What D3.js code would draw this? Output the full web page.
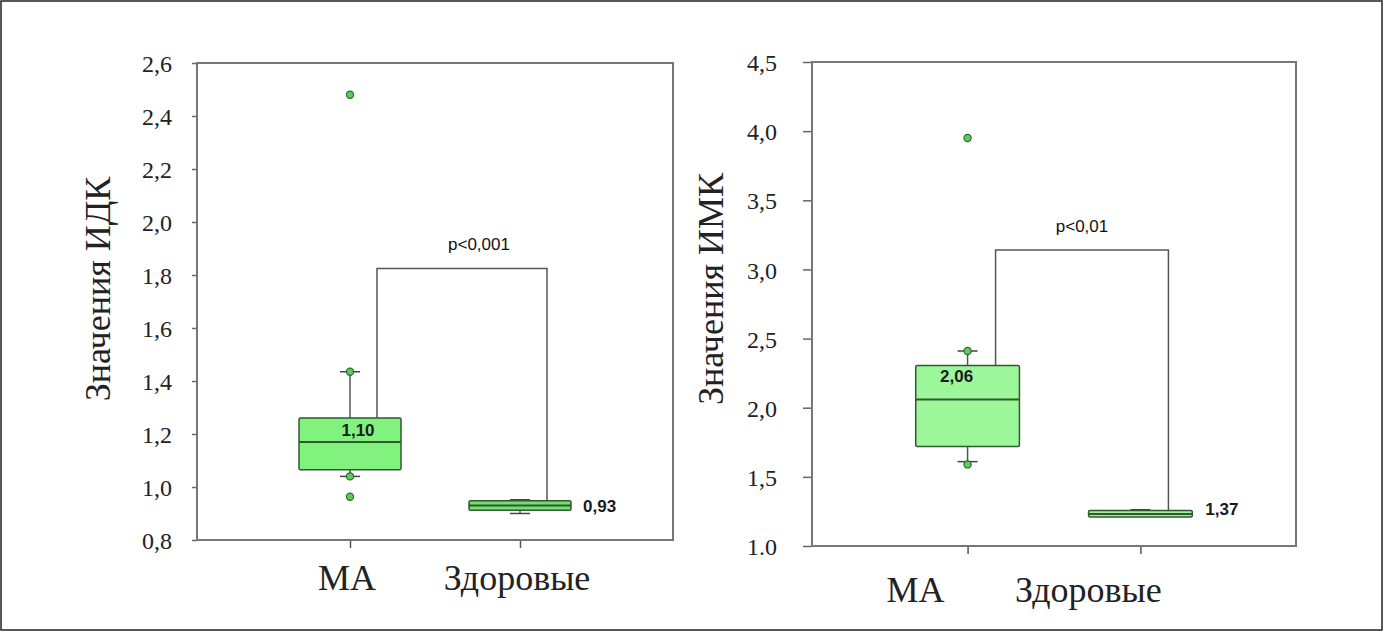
<!DOCTYPE html>
<html>
<head>
<meta charset="utf-8">
<script src="https://cdn.jsdelivr.net/npm/d3@7"></script>
<style>
  body { margin: 0; background: #fff; }
  svg { display: block; }
  .serif { font-family: "Liberation Serif", Tinos, "Times New Roman", Times, "Nimbus Roman", "Nimbus Roman No9 L", "Noto Serif", "DejaVu Serif", FreeSerif, serif; }
  .sans { font-family: "Liberation Sans", Arial, sans-serif; }
</style>
</head>
<body>
<svg id="chart" width="1384" height="632"></svg>
<script>
// groups
const categories = ["МА", "Здоровые"];

// ИДК panel
const idkQ1 = [1.065, 0.912];
const idkMedian = [1.17, 0.93];
const idkQ3 = [1.26, 0.948];
const idkWhiskerLow = [1.04, 0.90];
const idkWhiskerHigh = [1.435, 0.952];
const idkPoints = [[2.48, 1.435, 1.04, 0.963], []];
const idkLabels = ["1,10", "0,93"];
const idkTicks = [0.8, 1.0, 1.2, 1.4, 1.6, 1.8, 2.0, 2.2, 2.4, 2.6];
const idkTickLabels = ["0,8", "1,0", "1,2", "1,4", "1,6", "1,8", "2,0", "2,2", "2,4", "2,6"];
const idkBracket = 1.825;
const idkP = "p<0,001";

// ИМК panel
const imkQ1 = [1.72, 1.21];
const imkMedian = [2.06, 1.232];
const imkQ3 = [2.305, 1.256];
const imkWhiskerLow = [1.61, null];
const imkWhiskerHigh = [2.41, 1.262];
const imkPoints = [[3.95, 2.41, 1.59], []];
const imkLabels = ["2,06", "1,37"];
const imkTicks = [1.0, 1.5, 2.0, 2.5, 3.0, 3.5, 4.0, 4.5];
const imkTickLabels = ["1.0", "1,5", "2,0", "2,5", "3,0", "3,5", "4,0", "4,5"];
const imkBracket = 3.14;
const imkP = "p<0,01";

const svg = d3.select("#chart");

// outer border of the figure
svg.append("rect")
  .attr("x", 1).attr("y", 1).attr("width", 1381).attr("height", 629)
  .attr("fill", "none").attr("stroke", "#222").attr("stroke-width", 1.5);

function drawPanel(p, d) {
  const g = svg.append("g").attr("transform", `translate(${p.left},${p.top})`);

  const x = d3.scalePoint().domain(categories).range([0, p.width]).padding(0.9);
  const y = d3.scaleLinear()
    .domain([d.ticks[0], d.ticks[d.ticks.length - 1]])
    .range([p.height, 0]);
  const bw = x.step() * 0.6;

  // y axis
  const yAxis = g.append("g")
    .call(d3.axisLeft(y).tickValues(d.ticks).tickSize(p.yTick).tickPadding(p.yPad)
      .tickFormat((v, i) => d.tickLabels[i]));
  yAxis.attr("font-family", null).attr("font-size", null);
  yAxis.select(".domain").remove();
  yAxis.selectAll("line").attr("stroke", "#666").attr("stroke-width", 1.5);
  yAxis.selectAll("text")
    .attr("class", "serif")
    .style("font-size", "24px").attr("fill", "#222").attr("dy", "0.36em");

  // x axis ticks
  const xAxis = g.append("g").attr("transform", `translate(0,${p.height})`)
    .call(d3.axisBottom(x).tickSize(8).tickFormat(""));
  xAxis.select(".domain").remove();
  xAxis.selectAll("line").attr("stroke", "#555").attr("stroke-width", 1.5);

  // frame
  g.append("rect").attr("width", p.width).attr("height", p.height)
    .attr("fill", "none").attr("stroke", "#777").attr("stroke-width", 2);

  // category labels
  g.selectAll(".cat").data(categories).enter().append("text")
    .attr("class", "serif")
    .attr("x", c => x(c) + p.catShift)
    .attr("y", p.height + p.catGap)
    .attr("text-anchor", "middle")
    .style("font-size", "36px").attr("fill", "#222")
    .text(c => c);

  // axis title
  g.append("text")
    .attr("class", "serif")
    .attr("transform", `translate(${p.titleX},${p.titleY}) rotate(-90)`)
    .attr("text-anchor", "middle").attr("dy", "0.35em")
    .style("font-size", "36px").attr("fill", "#222")
    .text(p.title);

  // significance bracket
  const bx0 = x(categories[0]) + p.brShift, bx1 = x(categories[1]) + p.brShift;
  g.append("path")
    .attr("d", `M${bx0},${y(d.q3[0])}V${y(d.bracket)}H${bx1}V${y(d.q1[1])}`)
    .attr("fill", "none").attr("stroke", "#555").attr("stroke-width", 1.5);
  g.append("text")
    .attr("class", "sans")
    .attr("x", (bx0 + bx1) / 2 + p.pShift).attr("y", y(d.bracket) - 24)
    .attr("text-anchor", "middle").attr("dy", "0.35em")
    .style("font-size", "17px").attr("fill", "#111")
    .text(d.pText);

  categories.forEach((c, i) => {
    const cx = x(c);
    const fill = i === 0 ? p.fillA : p.fillB;

    // whiskers
    if (d.whHigh[i] != null) {
      g.append("line").attr("x1", cx).attr("x2", cx)
        .attr("y1", y(d.q3[i])).attr("y2", y(d.whHigh[i]))
        .attr("stroke", "#555").attr("stroke-width", 1.5);
      g.append("line").attr("x1", cx - 10).attr("x2", cx + 10)
        .attr("y1", y(d.whHigh[i])).attr("y2", y(d.whHigh[i]))
        .attr("stroke", "#444").attr("stroke-width", 1.5);
    }
    if (d.whLow[i] != null) {
      g.append("line").attr("x1", cx).attr("x2", cx)
        .attr("y1", y(d.q1[i])).attr("y2", y(d.whLow[i]))
        .attr("stroke", "#555").attr("stroke-width", 1.5);
      g.append("line").attr("x1", cx - 10).attr("x2", cx + 10)
        .attr("y1", y(d.whLow[i])).attr("y2", y(d.whLow[i]))
        .attr("stroke", "#444").attr("stroke-width", 1.5);
    }

    // box
    g.append("rect")
      .attr("x", cx - bw / 2).attr("y", y(d.q3[i]))
      .attr("width", bw).attr("height", y(d.q1[i]) - y(d.q3[i]))
      .attr("rx", 1.5)
      .attr("fill", fill).attr("stroke", "#2e5a2e").attr("stroke-width", 1.5);
    g.append("line")
      .attr("x1", cx - bw / 2).attr("x2", cx + bw / 2)
      .attr("y1", y(d.median[i])).attr("y2", y(d.median[i]))
      .attr("stroke", "#2e5a2e").attr("stroke-width", 2);

    // points
    g.selectAll(null).data(d.points[i]).enter().append("circle")
      .attr("cx", cx).attr("cy", v => y(v)).attr("r", 3.6)
      .attr("fill", "#5ccc5c").attr("stroke", "#2e6a2e").attr("stroke-width", 1.2);
  });

  // value labels
  g.append("text")
    .attr("class", "sans")
    .attr("x", x(categories[0]) + p.labA[0]).attr("y", y(d.q3[0]) + p.labA[1])
    .attr("text-anchor", "middle").attr("dy", "0.35em")
    .style("font-size", "17px").attr("font-weight", "bold").attr("fill", "#1a1a1a")
    .text(d.labels[0]);
  g.append("text")
    .attr("class", "sans")
    .attr("x", x(categories[1]) + bw / 2 + p.labB[0]).attr("y", y(d.median[1]) + p.labB[1])
    .attr("text-anchor", "start").attr("dy", "0.35em")
    .style("font-size", "17px").attr("font-weight", "bold").attr("fill", "#1a1a1a")
    .text(d.labels[1]);
}

drawPanel(
  { left: 197, top: 63, width: 476, height: 477, yTick: 5, yPad: 20,
    catShift: -3, catGap: 50, titleX: -100, titleY: 226, title: "Значения ИДК",
    brShift: 27, pShift: 17, fillA: "#82f27f", fillB: "#74de72",
    labA: [8, 12], labB: [12, 0] },
  { ticks: idkTicks, tickLabels: idkTickLabels, q1: idkQ1, median: idkMedian, q3: idkQ3,
    whLow: idkWhiskerLow, whHigh: idkWhiskerHigh, points: idkPoints, labels: idkLabels,
    bracket: idkBracket, pText: idkP }
);

drawPanel(
  { left: 812, top: 62, width: 484, height: 484, yTick: 9, yPad: 26,
    catShift: -52, catGap: 56, titleX: -102, titleY: 227, title: "Значения ИМК",
    brShift: 28, pShift: 0, fillA: "#9cf69a", fillB: "#a4eea0",
    labA: [-11, 11], labB: [13, -5] },
  { ticks: imkTicks, tickLabels: imkTickLabels, q1: imkQ1, median: imkMedian, q3: imkQ3,
    whLow: imkWhiskerLow, whHigh: imkWhiskerHigh, points: imkPoints, labels: imkLabels,
    bracket: imkBracket, pText: imkP }
);
</script>
</body>
</html>
